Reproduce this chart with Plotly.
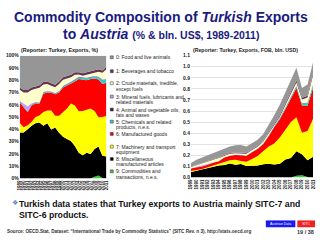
import plotly.graph_objects as go

# ---------------- data ----------------
years = list(range(1989, 2012))
year_labels = [str(y) for y in years]

# Turkish exports to Austria by SITC section, bln. US$
food = [0.0338, 0.0448, 0.0504, 0.052, 0.055, 0.0576, 0.0559, 0.0588, 0.0653, 0.0696, 0.0588, 0.0543,
        0.0561, 0.0605, 0.0635, 0.0756, 0.0943, 0.104, 0.110, 0.1139, 0.0891, 0.1008, 0.0936]
beverages = [0.0026, 0.0032, 0.0036, 0.004, 0.0044, 0.0048, 0.0052, 0.0056, 0.0058, 0.0058, 0.0056, 0.0062,
             0.0068, 0.0078, 0.0094, 0.0112, 0.013, 0.0154, 0.0176, 0.0198, 0.0162, 0.0168, 0.0208]
crude = [0.0116, 0.0147, 0.0202, 0.0214, 0.0235, 0.0286, 0.0159, 0.0157, 0.0133, 0.0133, 0.0157, 0.0152,
         0.0150, 0.0144, 0.0174, 0.0084, 0.0078, 0.0185, 0.0211, 0.0287, 0.0316, 0.0454, 0.0822]
fuels = [0.0004, 0.0032, 0.0072, 0.002, 0.0011, 0.0007, 0.0008, 0.0008, 0.0009, 0.0009, 0.0008, 0.0009,
         0.001, 0.0012, 0.0014, 0.0017, 0.002, 0.0023, 0.0026, 0.003, 0.0024, 0.0025, 0.0031]
oils = [0.0004, 0.0005, 0.0005, 0.0006, 0.0007, 0.0007, 0.0008, 0.0008, 0.0009, 0.0009, 0.0008, 0.0009,
        0.001, 0.0012, 0.0014, 0.0017, 0.002, 0.0023, 0.0026, 0.003, 0.0024, 0.0025, 0.0031]
chemicals = [0.001, 0.001, 0.001, 0.001, 0.001, 0.001, 0.002, 0.002, 0.002, 0.002, 0.002, 0.003,
             0.003, 0.005, 0.006, 0.008, 0.010, 0.012, 0.013, 0.015, 0.016, 0.025, 0.026]
manufactured = [0.022, 0.026, 0.019, 0.027, 0.024, 0.023, 0.039, 0.041, 0.042, 0.051, 0.053, 0.062,
                0.063, 0.062, 0.092, 0.148, 0.166, 0.185, 0.211, 0.262, 0.247, 0.227, 0.281]
machinery = [0.010, 0.007, 0.006, 0.006, 0.011, 0.014, 0.029, 0.029, 0.045, 0.028, 0.039, 0.062,
             0.085, 0.119, 0.155, 0.190, 0.237, 0.270, 0.326, 0.307, 0.194, 0.265, 0.343]
miscellaneous = [0.049, 0.060, 0.072, 0.086, 0.099, 0.109, 0.112, 0.126, 0.116, 0.122, 0.104, 0.105,
                 0.109, 0.119, 0.125, 0.118, 0.124, 0.162, 0.176, 0.223, 0.190, 0.151, 0.187]
commodities_nes = [0, 0, 0, 0, 0, 0, 0, 0, 0, 0, 0, 0,
                   0, 0, 0, 0, 0, 0, 0, 0.015, 0.020, 0.004, 0]

series = [food, beverages, crude, fuels, oils, chemicals, manufactured, machinery, miscellaneous, commodities_nes]
names = ["0: Food and live animals", "1: Beverages and tobacco", "2: Crude materials, inedible, except fuels",
         "3: Mineral fuels, lubricants and related materials", "4: Animal and vegetable oils, fats and waxes",
         "5: Chemicals and related products, n.e.s.", "6: Manufactured goods",
         "7: Machinery and transport equipment", "8: Miscellaneous manufactured articles",
         "9: Commodities and transactions, n.e.s."]
legend_lines = [["0: Food and live animals"], ["1: Beverages and tobacco"],
                ["2: Crude materials, inedible,", "except fuels"],
                ["3: Mineral fuels, lubricants and", "related materials"],
                ["4: Animal and vegetable oils,", "fats and waxes"],
                ["5: Chemicals and related", "products, n.e.s."],
                ["6: Manufactured goods"],
                ["7: Machinery and transport", "equipment"],
                ["8: Miscellaneous", "manufactured articles"],
                ["9: Commodities and", "transactions, n.e.s."]]
colors = ["#969696", "#663355", "#FFFFCC", "#CC99FF", "#3b1f4a", "#33CCCC", "#FF0000", "#FFFF00",
          "#000000", "#33CC33"]
pct_ticks = list(range(0, 101, 10))
pct_labels = [f"{v}%" for v in pct_ticks]

# ---------------- figure ----------------
W, H = 320, 240
def px(x): return x / W
def py(y): return 1 - y / H

FONT = "Liberation Sans"
NAVY = "#1a1a80"

fig = go.Figure()
order = list(range(len(series)))[::-1]  # 9 at bottom ... 0 on top
for k, i in enumerate(order):
    fig.add_trace(go.Scatter(x=years, y=series[i], name=names[i], stackgroup="L",
                             groupnorm="percent" if k == 0 else None,
                             mode="lines", line=dict(width=0, color=colors[i]), fillcolor=colors[i],
                             xaxis="x", yaxis="y", showlegend=False, hoverinfo="skip"))
for i in order:
    fig.add_trace(go.Scatter(x=years, y=series[i], name=names[i], stackgroup="R",
                             mode="lines", line=dict(width=0, color=colors[i]), fillcolor=colors[i],
                             xaxis="x2", yaxis="y2", showlegend=False, hoverinfo="skip"))

tickf = dict(family=FONT, size=5, color="#222222", weight="bold")
yearf = dict(family=FONT, size=4.5, color="#222222", weight="bold")

fig.update_layout(
    width=W, height=H, margin=dict(l=0, r=0, t=0, b=0),
    paper_bgcolor="white", plot_bgcolor="white",
    xaxis=dict(domain=[px(17), px(105)], range=[1989, 2011], tickmode="array", tickvals=years,
               ticktext=year_labels, tickangle=-90, tickfont=yearf, showgrid=False, zeroline=False,
               ticks="", anchor="y"),
    yaxis=dict(domain=[py(180), py(54)], range=[0, 100], tickmode="array", tickvals=pct_ticks,
               ticktext=pct_labels, tickfont=tickf, showgrid=False, zeroline=False, ticks="", anchor="x"),
    xaxis2=dict(domain=[px(191), px(315)], range=[1989, 2011], tickmode="array", tickvals=years,
                ticktext=year_labels, tickangle=-90, tickfont=yearf, showgrid=False, zeroline=False,
                ticks="", anchor="y2"),
    yaxis2=dict(domain=[py(179), py(54)], range=[0, 1.1], dtick=0.1, tick0=0, tickformat=".1f",
                tickfont=tickf, showgrid=True, gridcolor="#e2e2e2", gridwidth=1, zeroline=False,
                ticks="", anchor="x2"),
)

ann = []
shapes = []
# Titles
ann.append(dict(x=0.5, y=py(14), xref="paper", yref="paper", xanchor="center", yanchor="middle",
                showarrow=False, text="<b>Commodity Composition of <i>Turkish</i> Exports</b>",
                font=dict(family=FONT, size=14, color=NAVY)))
ann.append(dict(x=0.5, y=py(32), xref="paper", yref="paper", xanchor="center", yanchor="middle",
                showarrow=False,
                text="<b>to <i>Austria</i> <span style='font-size:10.5px'>(% & bln. US$, 1989-2011)</span></b>",
                font=dict(family=FONT, size=14, color=NAVY)))
# sub-chart captions
ann.append(dict(x=px(16), y=py(48), xref="paper", yref="paper", xanchor="left", yanchor="middle",
                showarrow=False, text="<b>(Reporter: Turkey, Exports, %)</b>",
                font=dict(family=FONT, size=5.4, color="#222222")))
ann.append(dict(x=px(191), y=py(48), xref="paper", yref="paper", xanchor="left", yanchor="middle",
                showarrow=False, text="<b>(Reporter: Turkey, Exports, FOB, bln. USD)</b>",
                font=dict(family=FONT, size=5.2, color="#222222")))

# legend (manual, to match the compact layout)
legend_y = [55.7, 70, 82.3, 96, 109.3, 121.7, 134.3, 147.3, 160, 172.7]
for i, lines in enumerate(legend_lines):
    y0 = legend_y[i]
    shapes.append(dict(type="rect", xref="paper", yref="paper", x0=px(109), x1=px(112),
                       y0=py(y0 + 1.5), y1=py(y0 - 1.5), fillcolor=colors[i],
                       line=dict(color="#333333", width=0.5)))
    for j, t in enumerate(lines):
        ann.append(dict(x=px(112.5), y=py(y0 + j * 5.5), xref="paper", yref="paper", xanchor="left",
                        yanchor="middle", showarrow=False, text=t,
                        font=dict(family=FONT, size=5, color="#222222")))

# bullet text
ann.append(dict(x=px(7), y=py(205.5), xref="paper", yref="paper", xanchor="left", yanchor="middle",
                showarrow=False, text="❖", font=dict(family="DejaVu Sans", size=7, color="#5b7fc7")))
ann.append(dict(x=px(14.5), y=py(206), xref="paper", yref="paper", xanchor="left", yanchor="middle",
                showarrow=False,
                text="<b>Turkish data states that Turkey exports to Austria mainly SITC-7 and</b>",
                font=dict(family=FONT, size=8.7, color="#111111")))
ann.append(dict(x=px(14.5), y=py(217), xref="paper", yref="paper", xanchor="left", yanchor="middle",
                showarrow=False, text="<b>SITC-6 products.</b>",
                font=dict(family=FONT, size=8.7, color="#111111")))
# source
ann.append(dict(x=px(2), y=py(234), xref="paper", yref="paper", xanchor="left", yanchor="middle",
                showarrow=False,
                text="<b>Source: OECD.Stat, Dataset: \u201cInternational Trade by Commodity Statistics\u201d (SITC Rev. n 3), http://stats.oecd.org</b>",
                font=dict(family=FONT, size=4.6, color="#333333")))
ann.append(dict(x=px(318), y=py(234.5), xref="paper", yref="paper", xanchor="right", yanchor="middle",
                showarrow=False, text="<b>19 / 38</b>", font=dict(family=FONT, size=5.5, color="#333333")))
# buttons
shapes.append(dict(type="rect", xref="paper", yref="paper", x0=px(267), x1=px(297), y0=py(230), y1=py(223),
                   fillcolor="#1a1aee", line=dict(width=0)))
shapes.append(dict(type="rect", xref="paper", yref="paper", x0=px(299), x1=px(317), y0=py(230), y1=py(223),
                   fillcolor="#ee2222", line=dict(width=0)))
ann.append(dict(x=px(282), y=py(226.5), xref="paper", yref="paper", xanchor="center", yanchor="middle",
                showarrow=False, text="Austrian Data", font=dict(family=FONT, size=3.5, color="white")))
ann.append(dict(x=px(308), y=py(226.5), xref="paper", yref="paper", xanchor="center", yanchor="middle",
                showarrow=False, text="SITC", font=dict(family=FONT, size=3.5, color="white")))

fig.update_layout(annotations=ann, shapes=shapes)
fig.write_html("out.html")
